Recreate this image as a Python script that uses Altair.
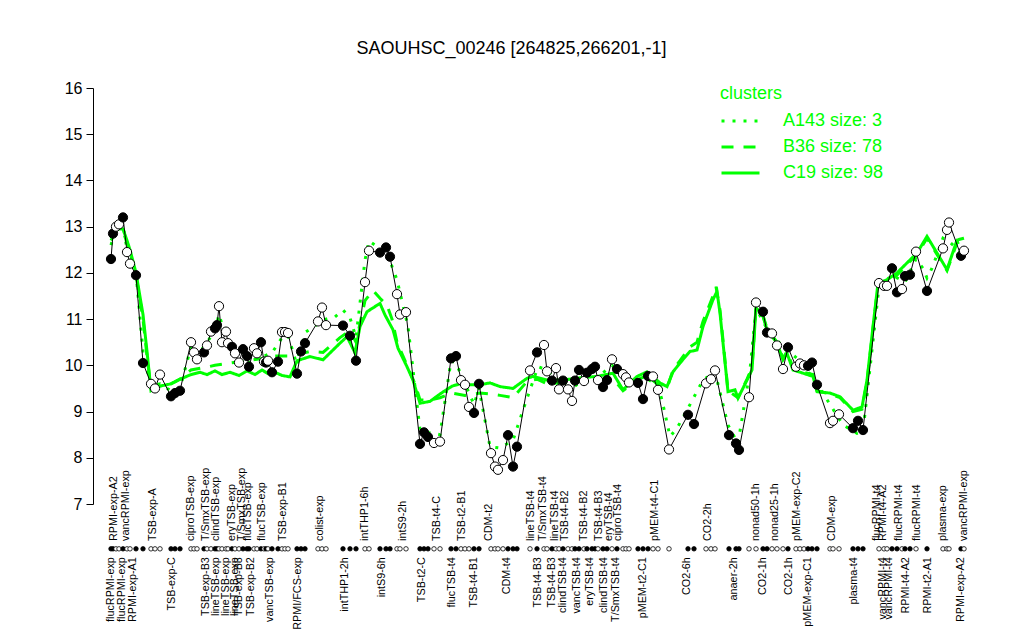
import altair as alt
import pandas as pd

GREEN = "#00ff00"
FONT = "Liberation Sans"

# ---- gene expression per condition (position along x, log2 value, filled=1 / open=0)
pos = [111, 113, 116, 119, 123, 127, 130, 136, 143,
       151, 155, 160,
       171, 175, 180,
       191, 194, 197,
       204, 207, 211, 215, 217, 219, 222, 226, 228, 232, 235, 239, 243, 247, 249, 254, 257, 261, 264, 266, 268, 272, 278, 282, 285, 288,
       297, 301, 305,
       318, 322, 326,
       343, 350, 356,
       365, 369,
       380, 386, 390,
       397, 400, 406,
       420, 424, 428,
       434, 440,
       451, 456,
       461, 465, 469,
       474, 479,
       491, 495, 498, 503,
       508, 513, 517,
       530,
       537, 544, 547, 552, 556, 559, 563, 568, 572, 575, 579, 584, 587, 592, 595, 598, 603, 607, 612, 617, 623, 626, 629,
       638, 643, 648, 653, 658,
       669,
       688, 694,
       706, 711, 715,
       729, 736, 739,
       749, 756, 763, 767, 772, 777, 783, 788,
       796, 800, 804, 808, 812, 817,
       830, 833, 839,
       853, 858, 863,
       879, 884, 887, 892, 897, 902, 905, 910, 916,
       927,
       943, 947, 949,
       961, 964]
val = [12.3, 12.85, 13.0, 13.05, 13.2, 12.45, 12.2, 11.95, 10.05,
       9.6, 9.5, 9.8,
       9.33, 9.4, 9.45,
       10.5, 10.28, 10.13,
       10.28, 10.43, 10.73, 10.8, 10.87, 11.28, 10.5, 10.73, 10.48, 10.4, 10.26, 10.06, 10.35, 10.2, 9.97, 10.37, 10.26, 10.5, 10.08, 10.06, 10.1, 9.85, 10.08, 10.72, 10.72, 10.7,
       9.82, 10.3, 10.48,
       10.95, 11.25, 10.87,
       10.86, 10.64, 10.1,
       11.8, 12.48,
       12.44, 12.55, 12.35,
       11.54, 11.1, 11.15,
       8.3, 8.55, 8.45,
       8.32, 8.35,
       10.15, 10.2,
       9.68, 9.58, 9.1,
       8.97, 9.6,
       8.1, 7.81, 7.74, 7.95,
       8.49, 7.81, 8.24,
       9.89,
       10.28, 10.44, 9.87, 9.67, 9.94, 9.48, 9.67, 9.48, 9.23, 9.67, 9.9, 9.66, 9.84, 9.92, 9.97, 9.68, 9.53, 9.68, 10.13, 9.92, 9.81, 9.74, 9.63,
       9.62, 9.27, 9.77, 9.76, 9.47,
       8.18,
       8.93, 8.73,
       9.61, 9.7, 9.89,
       8.49, 8.31, 8.17,
       9.31, 11.36, 11.16, 10.71, 10.69, 10.43, 9.92, 10.39,
       9.97, 10.04, 10.0, 9.99, 10.06, 9.58,
       8.75, 8.8, 8.94,
       8.64, 8.8, 8.6,
       11.78, 11.72, 11.72, 12.1, 11.58, 11.65, 11.93, 11.96, 12.46,
       11.61,
       12.53, 12.93, 13.09,
       12.37, 12.48]
filled = [1, 1, 0, 0, 1, 0, 0, 1, 1,
          0, 0, 0,
          1, 1, 1,
          0, 0, 0,
          1, 0, 0, 1, 1, 0, 0, 0, 0, 1, 0, 0, 1, 1, 1, 0, 0, 1, 0, 1, 0, 1, 1, 0, 0, 0,
          1, 1, 1,
          0, 0, 0,
          1, 1, 1,
          0, 0,
          1, 1, 1,
          0, 0, 0,
          1, 1, 1,
          0, 0,
          1, 1,
          0, 0, 0,
          1, 1,
          0, 0, 0, 0,
          1, 1, 1,
          0,
          1, 0, 0, 1, 0, 0, 1, 0, 0, 1, 1, 0, 1, 1, 1, 0, 1, 1, 0, 1, 0, 0, 0,
          1, 1, 1, 0, 0,
          0,
          1, 1,
          0, 0, 0,
          1, 1, 1,
          0, 0, 1, 1, 0, 0, 0, 1,
          0, 0, 0, 1, 1, 1,
          0, 0, 0,
          1, 1, 1,
          0, 0, 0, 1, 1, 0, 1, 1, 0,
          1,
          0, 0, 0,
          1, 0]

# ---- cluster mean profiles
c19_pos = [111, 116, 123, 127, 130, 136, 143, 147, 151, 160, 171, 180, 191, 200, 207, 215, 222, 230, 239, 247, 255, 262, 268, 275, 282, 290,
           297, 310, 323, 340, 347, 355, 360, 367, 380, 385, 393, 398, 407, 413, 420, 430, 440, 452, 460, 470, 480, 490, 500, 513,
           527, 533, 547, 563, 580, 597, 613, 623, 637, 647, 660, 667, 673, 680, 690, 697, 703, 713, 717, 720, 728, 735, 738, 747,
           752, 756, 762, 767, 777, 783, 787, 793, 803, 813, 817, 830, 840, 853, 862, 867, 873, 878, 887, 897, 910, 917, 927, 937,
           947, 957, 964]
c19_val = [12.75, 12.95, 12.95, 12.7, 12.5, 12.0, 11.1, 10.3, 9.45, 9.55, 9.6, 9.7, 9.8, 9.85, 9.8, 9.88, 9.8, 9.85, 9.78, 9.88, 9.8, 9.9, 9.82, 9.85, 9.78, 9.75,
           10.1, 10.19, 10.12, 10.48, 10.62, 10.27, 10.84, 11.16, 11.34, 11.09, 10.77, 10.37, 9.97, 9.68, 9.18, 9.22, 9.38, 9.55, 9.6, 9.58, 9.58, 9.62, 9.54, 9.5,
           9.72, 9.76, 9.68, 9.68, 9.73, 9.76, 9.83, 9.47, 9.76, 9.86, 9.62, 9.54, 9.86, 10.05, 10.3, 10.33, 10.84, 11.42, 11.6, 11.13, 9.43, 9.47, 9.29, 9.68,
           9.9, 11.24, 11.13, 10.77, 10.48, 10.12, 10.26, 9.9, 9.83, 9.76, 9.43, 9.4, 9.32, 9.03, 9.1, 9.68, 10.84, 11.78, 11.85, 12.0, 12.28, 12.43, 12.79, 12.43,
           12.07, 12.71, 12.75]

b36_pos = [111, 116, 123, 127, 130, 136, 143, 147, 151, 160, 171, 180, 191, 204, 215, 230, 247, 262, 275, 290, 300, 310, 323, 340, 350, 356, 365, 373, 380,
           387, 392, 397, 407, 415, 420, 430, 440, 452, 465, 480, 490, 500, 513, 527, 537, 547, 563, 580, 597, 613, 623, 637, 647, 660, 667, 673, 680,
           690, 697, 703, 713, 716, 720, 728, 738, 747, 752, 756, 762, 767, 777, 783, 787, 793, 803, 813, 817, 830, 840, 853, 862, 867, 873, 878, 887,
           897, 910, 917, 927, 937, 947, 957, 964]
b36_val = [12.7, 12.9, 12.9, 12.65, 12.45, 11.95, 11.0, 10.2, 9.5, 9.55, 9.6, 9.7, 9.9, 9.95, 10.0, 10.05, 10.1, 10.15, 10.2, 10.2, 10.25, 10.3, 10.28, 10.6, 10.75, 10.5, 11.4, 11.62, 11.45,
           11.3, 11.0, 10.5, 10.0, 9.6, 9.25, 9.25, 9.3, 9.4, 9.35, 9.4, 9.38, 9.35, 9.3, 9.65, 9.7, 9.6, 9.62, 9.65, 9.68, 9.72, 9.45, 9.68, 9.78, 9.55, 9.5, 9.9, 10.1,
           10.4, 10.5, 10.95, 11.5, 11.7, 11.2, 9.45, 9.3, 9.7, 9.95, 11.25, 11.15, 10.8, 10.5, 10.15, 10.3, 9.95, 9.85, 9.8, 9.45, 9.38, 9.3, 9.0, 9.05, 9.65, 10.8, 11.75, 11.8,
           11.95, 12.25, 12.4, 12.75, 12.4, 12.05, 12.65, 12.7]

a143_pos = [111, 116, 123, 127, 130, 136, 143, 151, 160, 171, 180, 191, 197, 207, 215, 219, 226, 235, 243, 249, 257, 264, 272, 282, 288, 297, 305, 318, 326,
            335, 343, 350, 356, 365, 369, 375, 386, 392, 397, 403, 408, 420, 428, 440, 451, 456, 465, 474, 479, 490, 500, 513, 523, 538, 547, 559,
            572, 587, 598, 612, 623, 638, 648, 658, 662, 670, 677, 687, 703, 715, 728, 738, 750, 756, 767, 783, 800, 817, 843, 857, 863, 879,
            892, 905, 916, 923, 927, 932, 943, 949, 961, 964]
a143_val = [12.6, 13.0, 13.05, 12.5, 12.3, 12.0, 10.3, 9.55, 9.6, 9.45, 9.5, 10.4, 10.2, 10.5, 10.75, 11.1, 10.6, 10.3, 10.3, 10.05, 10.25, 10.2, 10.27, 10.6, 10.65, 10.0, 10.71, 10.9, 11.0,
            11.05, 11.2, 11.03, 10.6, 12.28, 12.69, 12.6, 12.55, 12.14, 11.85, 11.3, 10.84, 8.6, 8.55, 8.5, 10.1, 10.05, 9.6, 9.15, 9.5, 8.24, 8.21, 8.38, 9.03, 9.97, 9.9, 9.6,
            9.5, 9.75, 9.75, 10.0, 9.8, 9.6, 9.7, 9.55, 9.25, 8.46, 8.64, 9.03, 9.68, 9.86, 8.71, 8.31, 9.9, 11.24, 10.79, 10.4, 10.1, 9.6, 8.71, 8.53, 8.57, 11.7,
            11.95, 11.8, 12.3, 12.1, 11.89, 12.1, 12.75, 12.68, 12.45, 12.6]

cluster_names = ["A143 size: 3", "B36 size: 78", "C19 size: 98"]

# ---- condition labels above and below the rug row
top_pos = [114, 126, 153, 191, 206, 216, 232, 242, 248, 262, 283, 320, 365, 403, 437, 462, 489, 531, 543, 555, 565, 584, 599, 609,
           618, 655, 708, 756, 775, 797, 832, 877, 883, 899, 917, 943, 964]
top_lab = ["RPMI-exp-A2", "vancRPMI-exp", "TSB-exp-A", "ciproTSB-exp", "T/SmxTSB-exp", "clindTSB-exp", "eryTSB-exp", "T/SmxTSB-exp",
           "flucTSB-exp", "flucTSB-exp", "TSB-exp-B1", "colist-exp", "intTHP1-6h", "intS9-2h", "TSB-t4-C", "TSB-t2-B1", "CDM-t2",
           "lineTSB-t4", "T/SmxTSB-t4", "lineTSB-t4", "TSB-t4-B2", "TSB-t4-B2", "TSB-t4-B3", "eryTSB-t4", "ciproTSB-t4", "pMEM-t4-C1",
           "CO2-2h", "nonad50-1h", "nonad25-1h", "pMEM-exp-C2", "CDM-exp", "flucRPMI-t4", "RPMI-t4-A2", "flucRPMI-t4", "flucRPMI-t4",
           "plasma-exp", "vancRPMI-exp"]
bot_pos = [111, 122, 133, 172, 206, 216, 226, 235, 239, 251, 270, 298, 345, 382, 422, 452, 474, 507, 538, 552, 563, 577, 590, 604,
           616, 643, 687, 734, 763, 789, 808, 854, 883, 889, 906, 928, 961]
bot_lab = ["flucRPMI-exp", "flucRPMI-exp", "RPMI-exp-A1", "TSB-exp-C", "TSB-exp-B3", "lineTSB-exp", "lineTSB-exp", "lineTSB-exp",
           "TSB-exp-B3", "TSB-exp-B2", "vancTSB-exp", "RPMI/FCS-exp", "intTHP1-2h", "intS9-6h", "TSB-t2-C", "flucTSB-t4", "TSB-t4-B1",
           "CDM-t4", "TSB-t4-B3", "TSB-t4-B3", "clindTSB-t4", "vancTSB-t4", "eryTSB-t4", "clindTSB-t4", "T/SmxTSB-t4", "pMEM-t2-C1",
           "CO2-6h", "anaer-2h", "CO2-1h", "CO2-1h", "pMEM-exp-C1", "plasma-t4", "vancRPMI-t4", "vancRPMI-t4", "RPMI-t4-A2",
           "RPMI-t2-A1", "RPMI-exp-A2"]

RUG_Y = 6.03
TOP_Y = 6.2
BOT_Y = 5.85

# ---- tables
pts = pd.DataFrame({"pos": pos, "val": val, "filled": filled})
clus = pd.concat([
    pd.DataFrame({"pos": a143_pos, "val": a143_val, "cluster": cluster_names[0]}),
    pd.DataFrame({"pos": b36_pos, "val": b36_val, "cluster": cluster_names[1]}),
    pd.DataFrame({"pos": c19_pos, "val": c19_val, "cluster": cluster_names[2]}),
])
top_df = pd.DataFrame({"pos": top_pos, "lab": top_lab})
bot_df = pd.DataFrame({"pos": bot_pos, "lab": bot_lab})

xs = alt.Scale(domain=[93, 980], nice=False, zero=False)
ys = alt.Scale(domain=[7, 16], nice=False, zero=False)
X = alt.X("pos:Q", scale=xs, axis=None)
Y = alt.Y("val:Q", scale=ys, axis=alt.Axis(values=list(range(7, 17)), title=None, grid=False,
                                           labelFontSize=16, labelFont=FONT, labelColor="black",
                                           tickSize=7, tickColor="black", domainColor="black",
                                           labelPadding=4, labelFlush=False))

cl = alt.Chart(clus).mark_line(color=GREEN, strokeWidth=3).encode(
    x=X, y=Y,
    detail="cluster:N",
    strokeDash=alt.StrokeDash(
        "cluster:N",
        scale=alt.Scale(domain=cluster_names, range=[[3, 8], [12, 10], [1, 0]]),
        legend=alt.Legend(title="clusters", orient="none", legendX=627, legendY=-3,
                          titleColor=GREEN, labelColor=GREEN, titleFontSize=18, labelFontSize=18,
                          titleFont=FONT, labelFont=FONT, titleFontWeight="normal",
                          symbolType="M-1,0L3,0", symbolStrokeColor=GREEN, symbolStrokeWidth=3,
                          symbolFillColor="transparent",
                          symbolSize=361, labelOffset=41, rowPadding=6, titlePadding=7),
    ),
)

line = alt.Chart(pts).mark_line(color="black", strokeWidth=1).encode(x=X, y=Y)

dots = alt.Chart(pts).mark_point(shape="circle", filled=True, size=85, stroke="black",
                                 strokeWidth=1, opacity=1).encode(
    x=X, y=Y,
    fill=alt.Fill("filled:N", scale=alt.Scale(domain=[0, 1], range=["white", "black"]), legend=None),
)

rug = alt.Chart(pts).mark_point(shape="circle", filled=True, size=20, stroke="black",
                                strokeWidth=0.8, opacity=1).encode(
    x=X, y=alt.Y(datum=RUG_Y, scale=ys),
    fill=alt.Fill("filled:N", scale=alt.Scale(domain=[0, 1], range=["white", "black"]), legend=None),
)

toplab = alt.Chart(top_df).mark_text(angle=270, align="left", baseline="middle", fontSize=10.8,
                                     font=FONT, color="black").encode(
    x=X, y=alt.Y(datum=TOP_Y, scale=ys), text="lab:N")
botlab = alt.Chart(bot_df).mark_text(angle=270, align="right", baseline="middle", fontSize=10.8,
                                     font=FONT, color="black").encode(
    x=X, y=alt.Y(datum=BOT_Y, scale=ys), text="lab:N")

chart = alt.layer(cl, line, dots, rug, toplab, botlab).properties(
    width=887, height=416,
    title=alt.Title("SAOUHSC_00246 [264825,266201,-1]", fontSize=18, fontWeight="normal",
                    font=FONT, color="black", anchor="middle", frame="group", dx=-25, offset=22),
    padding={"left": 85, "top": 80, "right": 30, "bottom": 128},
    autosize=alt.AutoSizeParams(type="none"),
).configure_view(stroke=None)

chart.save("out.html", embed_options={"renderer": "svg", "actions": False})
